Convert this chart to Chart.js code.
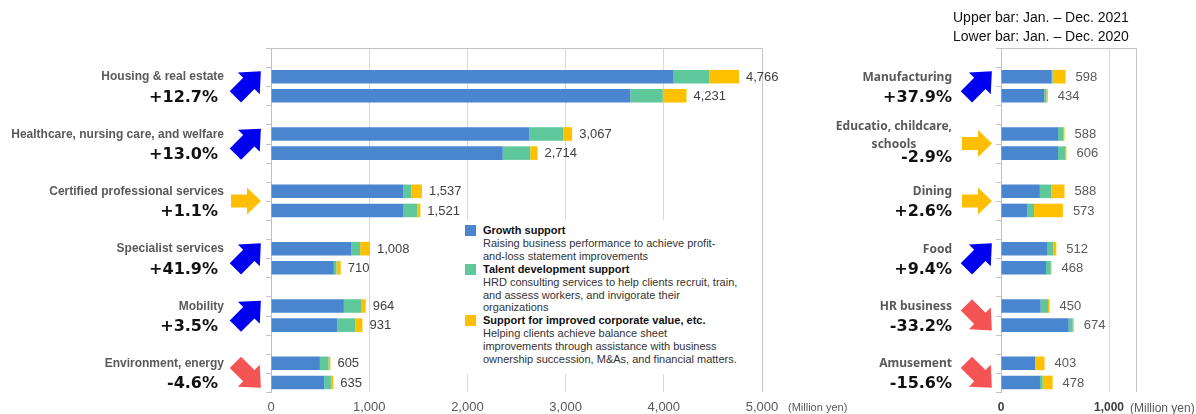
<!DOCTYPE html>
<html>
<head>
<meta charset="utf-8">
<script src="https://cdn.jsdelivr.net/npm/chart.js@4.4.1/dist/chart.umd.min.js"></script>
<style>
  body { margin: 0; background: #fff; }
  #wrap { position: relative; width: 1196px; height: 414px; overflow: hidden; font-family: "Liberation Sans", Arial, sans-serif; }
  #leftChart { position: absolute; left: 0; top: 0; }
  #rightChart { position: absolute; left: 800px; top: 0; }
  .legend { position: absolute; left: 461px; top: 220px; width: 285px; height: 150px; background: #fff;
            font-size: 11px; line-height: 12.9px; color: #333; }
  .legend .item { position: relative; padding-left: 22px; }
  .legend .item b { color: #111; }
  .legend .sw { position: absolute; left: 4px; top: 1px; width: 11px; height: 11px; }
  .note { position: absolute; left: 953px; top: 8px; font-size: 14px; line-height: 19px; color: #111; }
  .unit { position: absolute; font-size: 11px; color: #595959; }
</style>
</head>
<body>
<div id="wrap">
  <canvas id="leftChart" width="800" height="414"></canvas>
  <canvas id="rightChart" width="396" height="414"></canvas>
  <div class="legend" style="padding-top:4px">
    <div class="item"><span class="sw" style="background:#4a86d0"></span><b>Growth support</b><br>Raising business performance to achieve profit-<br>and-loss statement improvements</div>
    <div class="item"><span class="sw" style="background:#5ec89b"></span><b>Talent development support</b><br>HRD consulting services to help clients recruit, train,<br>and assess workers, and invigorate their<br>organizations</div>
    <div class="item"><span class="sw" style="background:#ffc000"></span><b>Support for improved corporate value, etc.</b><br>Helping clients achieve balance sheet<br>improvements through assistance with business<br>ownership succession, M&amp;As, and financial matters.</div>
  </div>
  <div class="note">Upper bar: Jan. – Dec. 2021<br>Lower bar: Jan. – Dec. 2020</div>
  <div class="unit" style="left:788px; top:401px">(Million yen)</div>
  <div class="unit" style="left:1130px; top:401px; font-size:12px">(Million yen)</div>
</div>
<script>
// left panel
const leftCategories = ['Housing & real estate', 'Healthcare, nursing care, and welfare', 'Certified professional services',
  'Specialist services', 'Mobility', 'Environment, energy'];
const leftChange = ['+12.7%', '+13.0%', '+1.1%', '+41.9%', '+3.5%', '-4.6%'];
const leftTrend = ['up', 'up', 'flat', 'up', 'up', 'down'];
const leftGrowth2021 = [4100, 2630, 1350, 820, 742, 498];
const leftTalent2021 = [366, 345, 80, 88, 180, 88];
const leftValue2021 = [300, 92, 107, 100, 42, 19];
const leftTotal2021 = [4766, 3067, 1537, 1008, 964, 605];
const leftGrowth2020 = [3660, 2360, 1350, 640, 674, 542];
const leftTalent2020 = [330, 280, 140, 27, 183, 68];
const leftValue2020 = [241, 74, 31, 43, 74, 25];
const leftTotal2020 = [4231, 2714, 1521, 710, 931, 635];
const leftTicks = [0, 1000, 2000, 3000, 4000, 5000];

// right panel
const rightCategories = ['Manufacturing', ['Educatio, childcare,', 'schools'], 'Dining', 'Food', 'HR business', 'Amusement'];
const rightChange = ['+37.9%', '-2.9%', '+2.6%', '+9.4%', '-33.2%', '-15.6%'];
const rightTrend = ['up', 'flat', 'flat', 'up', 'down', 'down'];
const rightGrowth2021 = [470, 528, 360, 426, 367, 315];
const rightTalent2021 = [8, 52, 105, 58, 68, 5];
const rightValue2021 = [120, 8, 123, 28, 15, 83];
const rightTotal2021 = [598, 588, 588, 512, 450, 403];
const rightGrowth2020 = [400, 528, 241, 417, 627, 361];
const rightTalent2020 = [20, 70, 65, 43, 37, 25];
const rightValue2020 = [14, 8, 267, 8, 10, 92];
const rightTotal2020 = [434, 606, 573, 468, 674, 478];
const rightTicks = [0, 1000];

const BLUE = '#4a86d0', GREEN = '#5ec89b', YELLOW = '#ffc000';
const ARROW = { up: '#0000f0', flat: '#ffbf00', down: '#f55454' };

function drawArrow(ctx, x, y, dir) {
  const flat = dir === 'flat';
  const ang = { up: -Math.PI / 4, flat: 0, down: Math.PI / 4 }[dir];
  const L = flat ? 30 : 36;
  const head = flat ? 14 : 17, hw = flat ? 13.5 : 15.5, sw = flat ? 6.5 : 8;
  ctx.save();
  ctx.translate(x, y);
  ctx.rotate(ang);
  ctx.translate(flat ? 0 : 3, 0);
  ctx.beginPath();
  ctx.moveTo(-L / 2, -sw);
  ctx.lineTo(L / 2 - head, -sw);
  ctx.lineTo(L / 2 - head, -hw);
  ctx.lineTo(L / 2, 0);
  ctx.lineTo(L / 2 - head, hw);
  ctx.lineTo(L / 2 - head, sw);
  ctx.lineTo(-L / 2, sw);
  ctx.closePath();
  ctx.fillStyle = ARROW[dir];
  ctx.fill();
  ctx.restore();
}

function sidePlugin(cfg) {
  return {
    id: 'side',
    afterDraw(chart) {
      const ctx = chart.ctx;
      const y = chart.scales.y, x = chart.scales.x, area = chart.chartArea;
      const up = chart.getDatasetMeta(3), low = chart.getDatasetMeta(6);
      ctx.save();
      // frame + slot ticks
      ctx.strokeStyle = '#c4c4c4';
      ctx.lineWidth = 1;
      ctx.beginPath();
      ctx.moveTo(area.left, area.top + 0.5);
      ctx.lineTo(area.right + 0.5, area.top + 0.5);
      ctx.lineTo(area.right + 0.5, area.bottom);
      const slot = (area.bottom - area.top) / (cfg.names.length * 3);
      for (let k = 0; k <= cfg.names.length * 3; k++) {
        const yy = Math.round(area.top + k * slot) + 0.5;
        ctx.moveTo(area.left - 5, yy);
        ctx.lineTo(area.left, yy);
      }
      ctx.stroke();

      cfg.names.forEach((name, i) => {
        const c = y.getPixelForValue(i);
        const pair = (up.data[i].y + low.data[i].y) / 2;
        ctx.fillStyle = '#595959';
        ctx.font = cfg.nameFont;
        ctx.textBaseline = 'middle';
        let pctY = c + 21;
        if (Array.isArray(name)) {
          ctx.textAlign = 'right';
          ctx.fillText(name[0], cfg.nameX, c - 7);
          const w = ctx.measureText(name[0]).width;
          ctx.textAlign = 'center';
          ctx.fillText(name[1], cfg.nameX - w / 2, c + 11);
          pctY = c + 24;
        } else {
          ctx.textAlign = 'right';
          ctx.fillText(name, cfg.nameX, c + 0.5);
        }
        ctx.textAlign = 'right';
        ctx.fillStyle = '#111';
        ctx.font = 'bold 16px "DejaVu Sans"';
        ctx.fillText(cfg.change[i], cfg.pctX, pctY);
        drawArrow(ctx, cfg.arrowX, pair, cfg.trend[i]);

        // totals at bar ends
        ctx.font = '13px "Liberation Sans"';
        ctx.fillStyle = cfg.valueColor;
        ctx.textAlign = 'left';
        ctx.fillText(cfg.total2021[i].toLocaleString('en-US'), x.getPixelForValue(cfg.total2021[i]) + cfg.gap, up.data[i].y + 0.5);
        ctx.fillText(cfg.total2020[i].toLocaleString('en-US'), x.getPixelForValue(cfg.total2020[i]) + cfg.gap, low.data[i].y + 0.5);
      });
      ctx.restore();
    }
  };
}

function makeChart(id, labels, s21, s20, xcfg, pad, side) {
  const nulls = labels.map(() => null);
  return new Chart(document.getElementById(id), {
    type: 'bar',
    data: {
      labels: labels.map(l => Array.isArray(l) ? l.join(' ') : l),
      datasets: [
        { label: 'gap', data: nulls, stack: 'gap' },
        { label: 'Growth support', data: s21[0], stack: 'y2021', backgroundColor: BLUE },
        { label: 'Talent development support', data: s21[1], stack: 'y2021', backgroundColor: GREEN },
        { label: 'Support for improved corporate value, etc.', data: s21[2], stack: 'y2021', backgroundColor: YELLOW },
        { label: 'Growth support', data: s20[0], stack: 'y2020', backgroundColor: BLUE },
        { label: 'Talent development support', data: s20[1], stack: 'y2020', backgroundColor: GREEN },
        { label: 'Support for improved corporate value, etc.', data: s20[2], stack: 'y2020', backgroundColor: YELLOW }
      ]
    },
    options: {
      indexAxis: 'y',
      responsive: false,
      animation: false,
      datasets: { bar: { categoryPercentage: 1, barPercentage: 0.71 } },
      layout: { padding: pad },
      scales: {
        x: {
          stacked: true, min: 0, max: xcfg.max,
          afterBuildTicks: axis => { axis.ticks = xcfg.ticks.map(v => ({ value: v })); },
          afterFit: s => { s.height = 22; },
          grid: { color: '#d9d9d9', drawTicks: false },
          border: { display: false },
          ticks: { padding: 8, color: xcfg.color, font: xcfg.font, callback: v => v.toLocaleString('en-US') }
        },
        y: {
          stacked: true,
          afterFit: s => { s.width = 0; },
          ticks: { display: false },
          grid: { display: false },
          border: { color: '#bfbfbf' }
        }
      },
      plugins: { legend: { display: false }, tooltip: { enabled: false } }
    },
    plugins: [sidePlugin(side)]
  });
}

makeChart('leftChart', leftCategories,
  [leftGrowth2021, leftTalent2021, leftValue2021],
  [leftGrowth2020, leftTalent2020, leftValue2020],
  { max: 5000, ticks: leftTicks, color: '#595959', font: { family: 'Liberation Sans', size: 13 } },
  { left: 271, right: 38, top: 48, bottom: 0 },
  { names: leftCategories, change: leftChange, trend: leftTrend, total2021: leftTotal2021, total2020: leftTotal2020,
    nameX: 224, pctX: 218, arrowX: 246, nameFont: 'bold 12px "Liberation Sans"', valueColor: '#404040', gap: 7 });

makeChart('rightChart', rightCategories,
  [rightGrowth2021, rightTalent2021, rightValue2021],
  [rightGrowth2020, rightTalent2020, rightValue2020],
  { max: 1250, ticks: rightTicks, color: '#404040', font: { family: 'Liberation Sans', size: 12, weight: 'bold' } },
  { left: 201, right: 60, top: 48, bottom: 0 },
  { names: rightCategories, change: rightChange, trend: rightTrend, total2021: rightTotal2021, total2020: rightTotal2020,
    nameX: 152, pctX: 152, arrowX: 177, nameFont: 'bold 12px "Noto Sans"', valueColor: '#595959', gap: 10 });
</script>
</body>
</html>
